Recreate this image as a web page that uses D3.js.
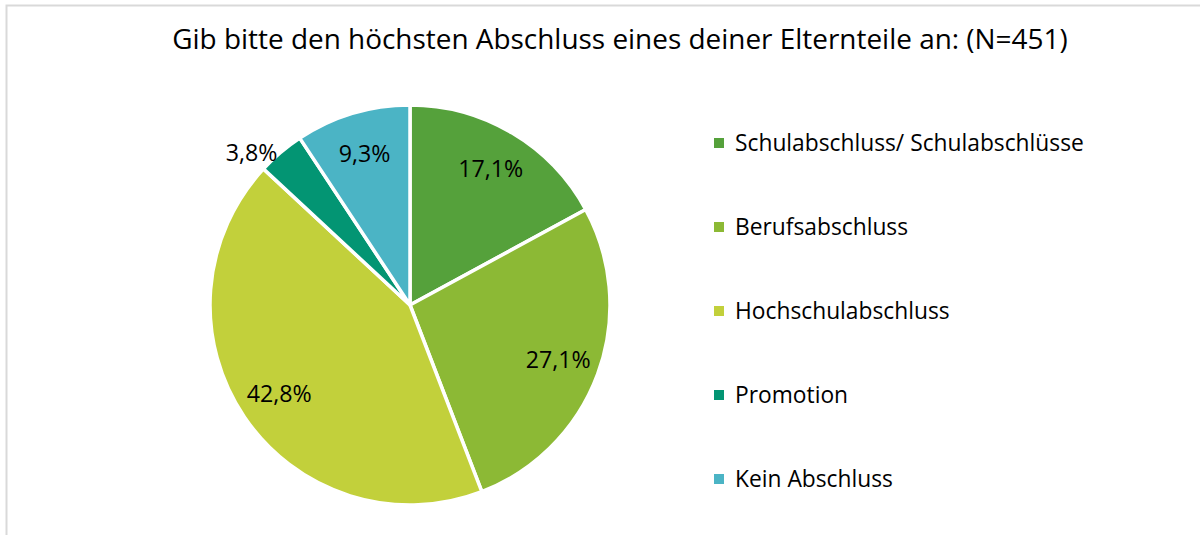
<!DOCTYPE html>
<html>
<head>
    <meta charset="utf-8">
    <title>Abschluss Eltern</title>
    <style>
        body { margin: 0; background: #fff; }
        svg text { font-family: "Open Sans", "Noto Sans", sans-serif; fill: #000; }
    </style>
    <script src="https://cdn.jsdelivr.net/npm/d3@7"></script>
</head>
<body>
<script type="text/javascript">

    // data
    var categories = ['Schulabschluss/ Schulabschlüsse', 'Berufsabschluss', 'Hochschulabschluss', 'Promotion', 'Kein Abschluss'];
    var values = [17.1, 27.1, 42.8, 3.8, 9.3];
    var colors = ['#55a13b', '#8cb935', '#c2d03b', '#039573', '#4bb4c5'];
    var title = 'Gib bitte den höchsten Abschluss eines deiner Elternteile an: (N=451)';

    var width = 1200, height = 535;
    var cx = 410, cy = 305, radius = 200;

    var svg = d3.select('body')
                    .append('svg')
                    .attr('width', width)
                    .attr('height', height);

    // chart border (only left/top visible in picture)
    svg.append('rect')
        .attr('x', 6.5).attr('y', 5.5)
        .attr('width', 1300).attr('height', 600)
        .attr('fill', 'none')
        .attr('stroke', '#d9d9d9')
        .attr('stroke-width', 2);

    // fit a text element to a target width
    function fitWidth(sel, target) {
        var w = sel.node().getComputedTextLength();
        var fs = parseFloat(sel.attr('font-size'));
        sel.attr('font-size', fs * target / w);
    }

    var t = svg.append('text')
        .attr('x', 620).attr('y', 49)
        .attr('text-anchor', 'middle')
        .attr('font-size', 24)
        .text(title);
    fitWidth(t, 896);

    var pie = d3.pie().sort(null).value(function(d) { return d; });
    var arcs = pie(values);

    var arc = d3.arc().innerRadius(0).outerRadius(radius);
    var labelArc = d3.arc().innerRadius(158).outerRadius(158);
    var outerArc = d3.arc().innerRadius(214).outerRadius(214);

    var g = svg.append('g').attr('transform', 'translate(' + cx + ',' + cy + ')');

    g.selectAll('path')
        .data(arcs)
        .enter()
        .append('path')
        .attr('d', arc)
        .attr('fill', function(d, i) { return colors[i]; })
        .attr('stroke', '#fff')
        .attr('stroke-width', 3.5)
        .attr('stroke-linejoin', 'round');

    var lbl = g.selectAll('text.lbl')
        .data(arcs)
        .enter()
        .append('text')
        .attr('class', 'lbl')
        .attr('transform', function(d) {
            var c = d.value < 5 ? outerArc.centroid(d) : labelArc.centroid(d);
            if (d.value < 5) { c = [c[0] - 20, c[1] + 11]; }   // outside label sits left of the slice
            return 'translate(' + c + ')';
        })
        .attr('text-anchor', 'middle')
        .attr('dy', '0.35em')
        .attr('font-size', 19)
        .text(function(d) { return d.value.toFixed(1).replace('.', ',') + '%'; });

    // label size from the "17,1%" width
    fitWidth(lbl.filter(function(d, i) { return i === 0; }), 65);
    lbl.attr('font-size', lbl.filter(function(d, i) { return i === 0; }).attr('font-size'));

    // legend
    var legend = svg.append('g');
    var rows = legend.selectAll('g')
        .data(categories)
        .enter()
        .append('g')
        .attr('transform', function(d, i) { return 'translate(714,' + (143 + i * 84) + ')'; });

    rows.append('rect')
        .attr('x', 0).attr('y', -5)
        .attr('width', 10).attr('height', 10)
        .attr('fill', function(d, i) { return colors[i]; });

    rows.append('text')
        .attr('x', 21)
        .attr('dy', '0.35em')
        .attr('font-size', 20)
        .text(function(d) { return d; });

    fitWidth(rows.filter(function(d, i) { return i === 0; }).select('text'), 349);
    var lfs = rows.filter(function(d, i) { return i === 0; }).select('text').attr('font-size');
    rows.selectAll('text').attr('font-size', lfs);

</script>
</body>
</html>
